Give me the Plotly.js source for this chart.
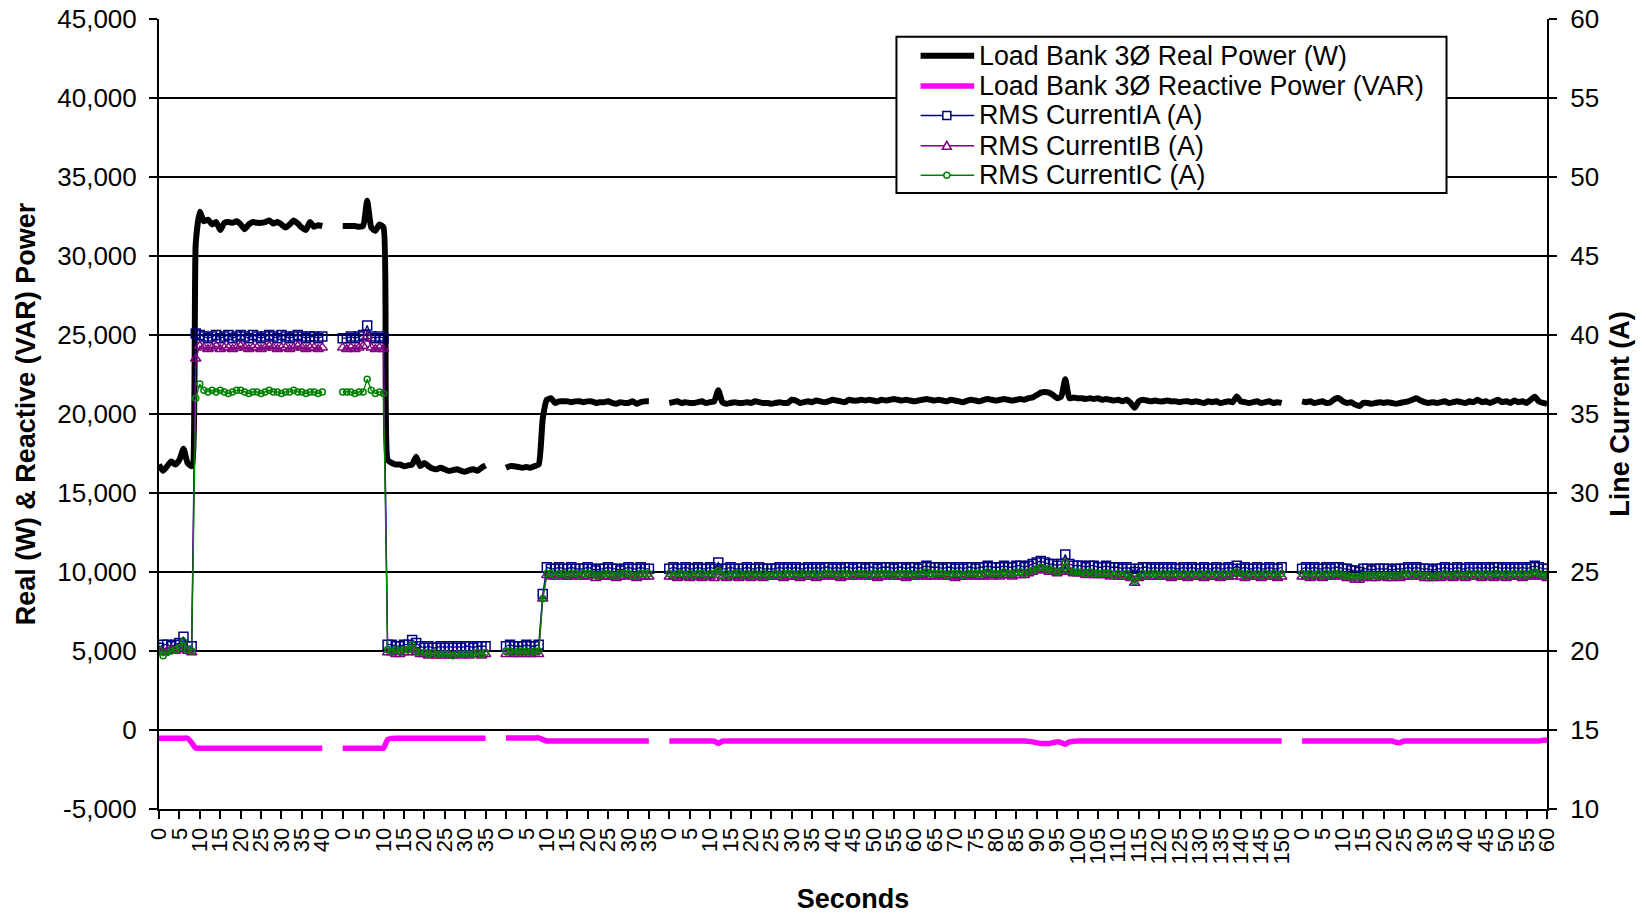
<!DOCTYPE html>
<html>
<head>
<meta charset="utf-8">
<script src="https://cdn.plot.ly/plotly-3.0.1.min.js"></script>
<style>html,body{margin:0;padding:0;background:#fff;}#chart{width:1646px;height:914px;}</style>
</head>
<body>
<div id="chart"></div>
<script>
// ---- tick labels (seconds, one label every 5 rows) ----
const tickLabels = [
  "0","5","10","15","20","25","30","35","40",
  "0","5","10","15","20","25","30","35",
  "0","5","10","15","20","25","30","35",
  "0","5","10","15","20","25","30","35","40","45","50","55","60","65","70","75","80","85","90","95","100","105","110","115","120","125","130","135","140","145","150",
  "0","5","10","15","20","25","30","35","40","45","50","55","60"
];
const leftTickVals = [-5000,0,5000,10000,15000,20000,25000,30000,35000,40000,45000];
const leftTickText = ["-5,000","0","5,000","10,000","15,000","20,000","25,000","30,000","35,000","40,000","45,000"];
const rightTickVals = [10,15,20,25,30,35,40,45,50,55,60];

// blank spreadsheet rows between test runs
const blankRows = [null,null,null,null];

// ---- Load Bank 3Ø Real Power (W) ----
const real1 = [16800,16400,16700,17000,16800,17100,17800,16900,16700,30800,32800,32200,32300,32000,32150,31650,32100,32150,32100,32200,32000,31700,32000,32150,32100,32100,32150,32250,32050,32150,32000,31800,32000,32250,32050,31800,31650,32150,31850,31950,31900];
const real2 = [31900,31900,31900,31900,31850,31900,33500,31800,31600,32000,31800,
  17100,16900,16800,16800,16700,16750,16800,17300,16700,16900,16700,16550,16500,16600,16500,16400,16450,16500,16400,16350,16450,16500,16400,16600,16750];
const real3 = [16600,16700,16700,16650,16600,16650,16600,16700,16800,19700,
  20900,21000,20700,20800,20800,20800,20750,20800,20800,20750,20800,20800,20700,20750,20750,20800,20700,20650,20750,20700,20700,20800,20650,20750,20800,20800];
const real4 = [20700,20750,20800,20700,20750,20700,20700,20750,20800,20700,20750,20800,
  21500,
  20750,20650,20700,20750,20700,20700,20750,20700,20800,20750,20700,20700,20650,
  20700,20750,20700,20700,20900,20850,20700,20750,20800,20750,20850,20800,20750,20800,20900,20850,20800,20750,20900,20850,
  20850,20900,20850,20900,20850,20800,20900,20850,20900,20950,20900,20850,20900,20850,20800,20850,20900,20950,20900,20850,
  20900,20850,20800,20900,20850,20800,20750,20850,20900,20850,20800,20900,20950,20900,20850,20900,20950,20900,20850,20900,
  20950,20900,21000,21050,21200,21350,21400,21350,21200,21000,21100,22200,21000,21050,21000,
  21000,20950,21000,20950,21000,20900,20950,20900,20850,20900,20800,20900,20700,20400,20800,20900,20850,20800,20850,20800,
  20800,20850,20800,20800,20750,20800,20800,20750,20800,20750,20700,20800,20750,20800,20700,20750,20800,20750,21100,20800,20750,20700,20750,20800,20700,20750,20800,20700,20750,20700];
const real5 = [20800,20750,20800,20700,20750,20800,20700,20750,20950,21000,20800,20700,20750,20600,20500,20700,20700,20650,20700,20750,
  20700,20750,20700,20650,20700,20750,20800,20900,21000,20850,20750,20700,20750,20700,20750,20800,20700,20750,20800,20750,20700,
  20800,20750,20900,20750,20800,20700,20800,20900,20750,20800,20700,20850,20750,20800,20700,20900,21100,20800,20700,20650];

// ---- Load Bank 3Ø Reactive Power (VAR) ----
const react1 = [-520,-520,-520,-520,-520,-520,-520,-520,-800,
  -1150,-1150,-1150,-1150,-1150,-1150,-1150,-1150,-1150,-1150,
  -1150,-1150,-1150,-1150,-1150,-1150,-1150,-1150,-1150,-1150,
  -1150,-1150,-1150,-1150,-1150,-1150,-1150,-1150,-1150,-1150,
  -1150,-1150];
const react2 = [-1150,-1150,-1150,-1150,-1150,-1150,-1150,-1150,-1150,-1150,-1150,
  -600,-530,-520,-520,-520,-520,-520,-520,-520,-520,
  -520,-520,-520,-520,-520,-520,-520,-520,-520,-520,
  -520,-520,-520,-520,-520];
const react3 = [-500,-500,-500,-500,-500,-500,-500,-500,-500,-600,
  -700,-700,-700,-700,-700,-700,-700,-700,-700,-700,-700,-700,-700,
  -700,-700,-700,-700,-700,-700,-700,-700,-700,-700,-700,-700,-700];
const react4 = [-700,-700,-700,-700,-700,-700,-700,-700,-700,-700,-700,-700,
  -850,
  -700,-700,-700,-700,-700,-700,-700,-700,-700,-700,-700,-700,-700,
  -700,-700,-700,-700,-700,-700,-700,-700,-700,-700,-700,-700,-700,-700,-700,-700,-700,-700,-700,-700,
  -700,-700,-700,-700,-700,-700,-700,-700,-700,-700,-700,-700,-700,-700,-700,-700,-700,-700,-700,-700,
  -700,-700,-700,-700,-700,-700,-700,-700,-700,-700,-700,-700,-700,-700,-700,-700,-700,-700,-700,-700,
  -700,-700,-720,-750,-800,-850,-850,-850,-800,-750,-800,-900,-750,-720,-700,
  -700,-700,-700,-700,-700,-700,-700,-700,-700,-700,-700,-700,-700,-700,-700,-700,-700,-700,-700,-700,
  -700,-700,-700,-700,-700,-700,-700,-700,-700,-700,-700,-700,-700,-700,-700,-700,-700,-700,-700,-700,-700,-700,-700,-700,-700,-700,-700,-700,-700,-700];
const react5 = [-700,-700,-700,-700,-700,-700,-700,-700,-700,-700,-700,-700,-700,-700,-700,-700,-700,-700,-700,-700,
  -700,-700,-700,-780,-800,-700,-700,-700,-700,-700,-700,-700,-700,-700,-700,-700,-700,-700,-700,-700,-700,
  -700,-700,-700,-700,-700,-700,-700,-700,-700,-700,-700,-700,-700,-700,-700,-700,-700,-700,-650,-650];

// ---- RMS CurrentIA (A) ----
const ia1 = [20.2,20.4,20.4,20.3,20.4,20.5,20.9,20.3,20.3,
  40.1,40.0,39.9,39.8,39.9,40.0,39.8,39.9,40.0,39.8,39.9,40.0,39.9,39.8,40.0,39.9,39.8,39.9,40.0,39.9,39.8,40.0,39.9,39.8,39.9,40.0,39.9,39.8,39.9,39.9,39.8,39.9];
const ia2 = [39.8,39.8,39.9,39.8,39.9,40.0,40.6,39.9,39.8,39.9,39.8,
  20.4,20.4,20.3,20.3,20.4,20.4,20.7,20.5,20.3,20.2,20.3,20.2,20.2,20.3,20.2,20.3,20.2,20.3,20.2,20.3,20.3,20.2,20.3,20.3,20.3];
const ia3 = [20.3,20.4,20.3,20.3,20.3,20.4,20.3,20.3,20.4,23.6,
  25.3,25.2,25.2,25.3,25.2,25.2,25.3,25.2,25.2,25.2,25.3,25.2,25.1,25.2,25.2,25.3,25.2,25.2,25.1,25.2,25.3,25.2,25.2,25.3,25.2,25.2];
const ia4 = [25.2,25.3,25.2,25.2,25.3,25.2,25.2,25.3,25.2,25.2,25.3,25.2,
  25.6,
  25.2,25.2,25.3,25.2,25.2,25.2,25.3,25.2,25.2,25.3,25.2,25.2,25.2,
  25.2,25.3,25.2,25.3,25.2,25.3,25.2,25.2,25.3,25.2,25.3,25.2,25.3,25.3,25.2,25.3,25.2,25.3,25.3,25.2,
  25.3,25.3,25.2,25.3,25.3,25.2,25.3,25.3,25.3,25.2,25.3,25.3,25.2,25.3,25.3,25.2,25.3,25.4,25.3,25.3,
  25.3,25.2,25.3,25.3,25.2,25.3,25.2,25.3,25.3,25.2,25.3,25.3,25.4,25.3,25.3,25.3,25.4,25.3,25.3,25.4,
  25.4,25.3,25.4,25.5,25.6,25.7,25.6,25.5,25.5,25.4,25.5,26.1,25.5,25.4,25.4,
  25.4,25.3,25.4,25.4,25.3,25.3,25.4,25.3,25.3,25.3,25.2,25.3,25.2,25.0,25.2,25.3,25.3,25.2,25.3,25.2,
  25.3,25.2,25.3,25.2,25.2,25.3,25.2,25.3,25.2,25.2,25.3,25.2,25.2,25.3,25.2,25.2,25.3,25.2,25.4,25.2,25.3,25.2,25.2,25.3,25.2,25.2,25.3,25.2,25.2,25.3];
const ia5 = [25.2,25.3,25.2,25.3,25.2,25.2,25.3,25.2,25.3,25.3,25.2,25.2,25.1,25.1,25.0,25.2,25.2,25.1,25.2,25.2,
  25.2,25.2,25.1,25.2,25.2,25.2,25.3,25.2,25.3,25.2,25.2,25.2,25.1,25.2,25.2,25.3,25.2,25.2,25.3,25.2,25.2,
  25.3,25.2,25.3,25.2,25.3,25.2,25.3,25.3,25.2,25.3,25.2,25.3,25.2,25.3,25.2,25.3,25.4,25.3,25.2,25.2];

// ---- RMS CurrentIB (A) ----
const ib1 = [20.0,19.9,20.0,20.1,20.0,20.1,20.3,20.0,19.9,
  38.5,39.3,39.2,39.1,39.2,39.3,39.1,39.2,39.2,39.1,39.2,39.3,39.2,39.1,39.2,39.2,39.1,39.2,39.3,39.2,39.1,39.2,39.2,39.1,39.2,39.3,39.2,39.1,39.2,39.2,39.1,39.2];
const ib2 = [39.2,39.1,39.2,39.1,39.2,39.3,39.9,39.2,39.1,39.2,39.1,
  19.9,19.9,19.8,19.8,19.9,19.9,20.1,19.9,19.8,19.8,19.7,19.8,19.7,19.7,19.8,19.7,19.7,19.8,19.7,19.8,19.7,19.8,19.8,19.7,19.8];
const ib3 = [19.8,19.9,19.8,19.8,19.9,19.8,19.8,19.9,19.8,23.3,
  24.8,24.7,24.7,24.8,24.7,24.7,24.7,24.8,24.7,24.7,24.7,24.8,24.6,24.7,24.7,24.7,24.7,24.6,24.7,24.7,24.8,24.7,24.6,24.7,24.7,24.7];
const ib4 = [24.7,24.7,24.6,24.7,24.7,24.6,24.7,24.7,24.6,24.7,24.7,24.6,
  25.0,
  24.7,24.6,24.7,24.7,24.6,24.7,24.7,24.6,24.7,24.7,24.6,24.7,24.7,
  24.7,24.7,24.6,24.7,24.7,24.7,24.6,24.7,24.7,24.7,24.6,24.7,24.7,24.8,24.7,24.7,24.6,24.7,24.7,24.7,
  24.7,24.8,24.7,24.7,24.7,24.6,24.7,24.7,24.8,24.7,24.7,24.7,24.6,24.7,24.7,24.7,24.8,24.7,24.7,24.7,
  24.8,24.7,24.7,24.7,24.6,24.7,24.7,24.7,24.8,24.7,24.7,24.7,24.8,24.7,24.8,24.7,24.8,24.8,24.7,24.8,
  24.8,24.8,24.9,25.0,25.1,25.2,25.1,25.0,25.0,24.9,25.0,25.6,25.0,24.9,24.9,
  24.9,24.8,24.9,24.8,24.8,24.8,24.8,24.7,24.8,24.7,24.7,24.7,24.6,24.3,24.6,24.7,24.7,24.7,24.7,24.7,
  24.7,24.7,24.6,24.7,24.7,24.7,24.6,24.7,24.7,24.7,24.6,24.7,24.7,24.7,24.6,24.7,24.7,24.7,24.9,24.7,24.6,24.7,24.7,24.7,24.6,24.7,24.7,24.7,24.6,24.7];
const ib5 = [24.7,24.7,24.6,24.7,24.7,24.6,24.7,24.7,24.7,24.8,24.7,24.6,24.6,24.5,24.5,24.6,24.7,24.6,24.6,24.7,
  24.7,24.6,24.6,24.7,24.6,24.7,24.7,24.7,24.8,24.7,24.6,24.6,24.6,24.7,24.6,24.7,24.7,24.6,24.7,24.7,24.6,
  24.7,24.7,24.7,24.6,24.7,24.7,24.6,24.7,24.7,24.6,24.7,24.7,24.7,24.6,24.7,24.7,24.8,24.7,24.7,24.6];

// ---- RMS CurrentIC (A) ----
const ic1 = [20.1,19.7,19.9,20.0,20.1,20.2,20.6,20.1,20.0,
  36.0,36.9,36.5,36.4,36.5,36.4,36.5,36.4,36.3,36.4,36.5,36.5,36.4,36.3,36.4,36.4,36.3,36.4,36.5,36.4,36.4,36.3,36.4,36.4,36.5,36.4,36.4,36.3,36.4,36.4,36.3,36.4];
const ic2 = [36.4,36.4,36.4,36.3,36.4,36.4,37.2,36.5,36.3,36.4,36.3,
  20.1,20.0,20.1,20.0,20.1,20.1,20.4,20.0,19.9,19.9,19.8,19.9,19.8,19.8,19.8,19.8,19.7,19.8,19.8,19.8,19.8,19.8,19.9,19.8,19.9];
const ic3 = [20.0,20.0,19.9,20.0,20.0,20.0,19.9,20.0,20.0,23.3,
  24.9,24.9,24.8,24.9,24.9,24.8,24.9,24.9,24.8,24.9,24.9,24.9,24.8,24.8,24.9,24.9,24.8,24.8,24.9,24.9,24.9,24.8,24.8,24.9,24.9,24.9];
const ic4 = [24.9,24.8,24.9,24.9,24.8,24.9,24.8,24.9,24.9,24.8,24.9,24.9,
  25.1,
  24.8,24.9,24.8,24.9,24.9,24.8,24.9,24.8,24.9,24.8,24.9,24.8,24.8,
  24.9,24.8,24.9,24.9,24.9,24.8,24.9,24.9,24.8,24.9,24.9,24.8,24.9,24.9,24.9,24.8,24.9,24.9,24.9,24.8,
  24.9,24.9,24.9,24.8,24.9,24.9,24.9,24.9,24.9,24.8,24.9,24.9,24.9,24.9,24.8,24.9,24.9,25.0,24.9,24.9,
  24.9,24.9,24.8,24.9,24.9,24.9,24.8,24.9,24.9,24.9,24.9,24.9,25.0,24.9,24.9,24.9,25.0,24.9,24.9,25.0,
  25.0,24.9,25.0,25.1,25.2,25.3,25.2,25.2,25.1,25.0,25.1,25.6,25.1,25.0,25.0,
  25.0,24.9,25.0,24.9,24.9,24.9,24.9,24.9,24.8,24.9,24.8,24.9,24.7,24.4,24.7,24.9,24.8,24.9,24.9,24.8,
  24.9,24.8,24.9,24.9,24.8,24.9,24.8,24.9,24.8,24.9,24.8,24.9,24.8,24.9,24.8,24.9,24.8,24.9,25.0,24.9,24.8,24.9,24.8,24.9,24.8,24.9,24.8,24.9,24.8,24.9];
const ic5 = [24.9,24.8,24.9,24.8,24.9,24.8,24.9,24.8,24.9,24.9,24.8,24.8,24.7,24.7,24.7,24.8,24.8,24.8,24.8,24.8,
  24.8,24.8,24.8,24.8,24.8,24.9,24.9,24.8,24.9,24.8,24.8,24.8,24.7,24.8,24.8,24.9,24.8,24.8,24.9,24.8,24.8,
  24.9,24.8,24.9,24.8,24.9,24.8,24.9,24.9,24.8,24.9,24.8,24.9,24.8,24.9,24.8,24.9,25.0,24.9,24.8,24.8];

function joinRuns(runs) {
  let out = [];
  runs.forEach((r, k) => { if (k > 0) out = out.concat(blankRows); out = out.concat(r); });
  return out;
}
const realPower = joinRuns([real1, real2, real3, real4, real5]);
const reactivePower = joinRuns([react1, react2, react3, react4, react5]);
const currentA = joinRuns([ia1, ia2, ia3, ia4, ia5]);
const currentB = joinRuns([ib1, ib2, ib3, ib4, ib5]);
const currentC = joinRuns([ic1, ic2, ic3, ic4, ic5]);
const rowIndex = realPower.map((_, i) => i);
const tickRows = tickLabels.map((_, k) => k * 5);

const FONT = 'Liberation Sans, Arial, Helvetica, sans-serif';
const NAVY = '#000080', PURPLE = '#800080', GREEN = '#008000', MAGENTA = '#FF00FF';

const series = [
  {name: 'Load Bank 3Ø Real Power (W)', y: realPower, color: '#000000', width: 6, axis: 'y'},
  {name: 'Load Bank 3Ø Reactive Power (VAR)', y: reactivePower, color: MAGENTA, width: 5.5, axis: 'y'},
  {name: 'RMS CurrentIA (A)', y: currentA, color: NAVY, width: 1.3, axis: 'y2', symbol: 'square-open', size: 9},
  {name: 'RMS CurrentIB (A)', y: currentB, color: PURPLE, width: 1.3, axis: 'y2', symbol: 'triangle-up-open', size: 9},
  {name: 'RMS CurrentIC (A)', y: currentC, color: GREEN, width: 1.3, axis: 'y2', symbol: 'circle-open', size: 6}
];

const traces = series.map(s => s.symbol ? {
  x: rowIndex, y: s.y, name: s.name, type: 'scatter', mode: 'lines+markers', yaxis: s.axis,
  line: {color: s.color, width: s.width},
  marker: {symbol: s.symbol, size: s.size, color: s.color, line: {width: 1.5, color: s.color}}
} : {
  x: rowIndex, y: s.y, name: s.name, type: 'scatter', mode: 'lines', yaxis: s.axis,
  line: {color: s.color, width: s.width, shape: 'spline', smoothing: 0.5}
});

// ---- hand-built legend box (Excel style, tight rows) ----
const legendBox = {x0: 0.5313, x1: 0.9276, y0: 0.7796, y1: 0.9776};
const legendRowY = [0.9536, 0.9151, 0.8779, 0.8394, 0.8022];
const legendLineX = [0.5487, 0.5873];
const legendMarkX = 0.5676;
const legendTextX = 0.5896;

const shapes = [{type: 'rect', xref: 'paper', yref: 'paper', layer: 'above',
  x0: legendBox.x0, x1: legendBox.x1, y0: legendBox.y0, y1: legendBox.y1,
  line: {color: '#000000', width: 2}, fillcolor: '#ffffff'}];
const annotations = [];
series.forEach((s, k) => {
  const yy = legendRowY[k];
  shapes.push({type: 'line', xref: 'paper', yref: 'paper', layer: 'above',
    x0: legendLineX[0], x1: legendLineX[1], y0: yy, y1: yy,
    line: {color: s.color, width: s.symbol ? 1.5 : s.width}});
  const mk = {xref: 'paper', yref: 'paper', layer: 'above', xsizemode: 'pixel', ysizemode: 'pixel',
    xanchor: legendMarkX, yanchor: yy, line: {color: s.color, width: 1.5}, fillcolor: '#ffffff'};
  if (s.symbol === 'square-open') shapes.push(Object.assign({type: 'rect', x0: -4, x1: 4, y0: -4, y1: 4}, mk));
  if (s.symbol === 'triangle-up-open') shapes.push(Object.assign({type: 'path', path: 'M-4.5,-3.5 L4.5,-3.5 L0,4.5 Z'}, mk));
  if (s.symbol === 'circle-open') shapes.push(Object.assign({type: 'circle', x0: -3, x1: 3, y0: -3, y1: 3}, mk));
  annotations.push({xref: 'paper', yref: 'paper', x: legendTextX, y: yy, xanchor: 'left', yanchor: 'middle',
    showarrow: false, text: s.name, font: {family: FONT, size: 26.8, color: '#000000'}});
});

const layout = {
  width: 1646, height: 914,
  margin: {l: 159, r: 99, t: 19, b: 105, pad: 0},
  paper_bgcolor: '#ffffff', plot_bgcolor: '#ffffff',
  font: {family: FONT, color: '#000000', size: 26},
  showlegend: false,
  shapes: shapes,
  annotations: annotations,
  xaxis: {range: [0, 340], tickmode: 'array', tickvals: tickRows, ticktext: tickLabels, tickangle: -90,
          ticks: 'outside', ticklen: 8, tickwidth: 2, tickcolor: '#000000',
          showline: true, linecolor: '#000000', linewidth: 2, showgrid: false, zeroline: false,
          tickfont: {family: FONT, size: 22, color: '#000000'}, automargin: false,
          title: {text: 'Seconds', font: {family: FONT, size: 27, color: '#000000', weight: 'bold'}, standoff: 29}},
  yaxis: {range: [-5000, 45000], tickmode: 'array', tickvals: leftTickVals, ticktext: leftTickText,
          ticks: 'outside', ticklen: 8, tickwidth: 2, tickcolor: '#000000', ticklabelstandoff: 7,
          showline: true, linecolor: '#000000', linewidth: 2, showgrid: true, gridcolor: '#000000', gridwidth: 2,
          zeroline: false, tickfont: {family: FONT, size: 26, color: '#000000'}, automargin: false,
          title: {text: 'Real (W) & Reactive (VAR) Power', font: {family: FONT, size: 27, color: '#000000', weight: 'bold'}, standoff: 14}},
  yaxis2: {range: [10, 60], overlaying: 'y', side: 'right', tickmode: 'array', tickvals: rightTickVals,
           ticks: 'outside', ticklen: 8, tickwidth: 2, tickcolor: '#000000', ticklabelstandoff: 8,
           showline: true, linecolor: '#000000', linewidth: 2, showgrid: false, zeroline: false,
           tickfont: {family: FONT, size: 26, color: '#000000'}, automargin: false,
           title: {text: 'Line Current (A)', font: {family: FONT, size: 27, color: '#000000', weight: 'bold'}, standoff: 12}}
};

Plotly.newPlot('chart', traces, layout, {displayModeBar: false, staticPlot: true});
</script>
</body>
</html>
